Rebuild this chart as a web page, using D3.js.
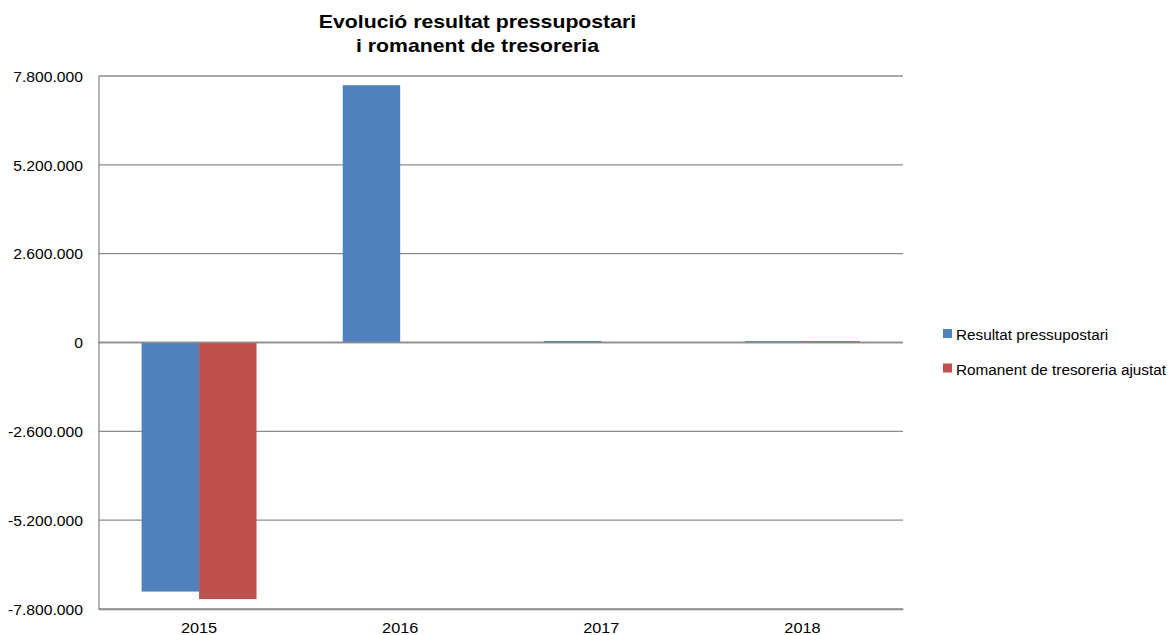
<!DOCTYPE html>
<html>
<head>
<meta charset="utf-8">
<script src="https://cdn.jsdelivr.net/npm/d3@7"></script>
<style>
  html, body { margin: 0; padding: 0; background: #fff; }
  svg { display: block; font-family: "Liberation Sans", Arial, sans-serif; }
</style>
</head>
<body>
<svg id="chart" width="1176" height="635"></svg>
<script>
// Years on the category axis
const years = ["2015", "2016", "2017", "2018"];
// Budget result per year (euros)
const resultatPressupostari = [-7290000, 7530000, 45000, 40000];
// Adjusted treasury surplus per year (euros)
const romanentAjustat = [-7510000, 0, 0, 40000];
// Value-axis ticks
const yTicks = [-7800000, -5200000, -2600000, 0, 2600000, 5200000, 7800000];
const seriesNames = ["Resultat pressupostari", "Romanent de tresoreria ajustat"];
const seriesColors = ["#4F81BD", "#C0504D"];

const svg = d3.select("#chart");
const plot = { left: 98.5, right: 903, top: 76, bottom: 609 };
const gridColor = "#8c8c8c";

const locale = d3.formatLocale({ decimal: ",", thousands: ".", grouping: [3], currency: ["", "€"], minus: "-" });
const fmt = locale.format(",d");

const x = d3.scaleBand().domain(years).range([plot.left, plot.right]).paddingInner(0).paddingOuter(0);
const y = d3.scaleLinear().domain([-7800000, 7800000]).range([plot.bottom, plot.top]);

// Two bars per category, with a gap of 150% of a bar's width
const barW = x.bandwidth() / 3.5;
const xs = d3.scaleBand().domain([0, 1]).range([0, barW * 2]);

// Horizontal gridlines
svg.append("g")
  .selectAll("line")
  .data(yTicks)
  .join("line")
  .attr("x1", plot.left)
  .attr("x2", plot.right)
  .attr("y1", d => y(d))
  .attr("y2", d => y(d))
  .attr("stroke", gridColor)
  .attr("stroke-width", 1.3);

const series = [resultatPressupostari, romanentAjustat];
series.forEach((vals, si) => {
  svg.append("g")
    .selectAll("rect")
    .data(vals.map((v, i) => ({ year: years[i], v })))
    .join("rect")
    .attr("x", d => x(d.year) + (x.bandwidth() - barW * 2) / 2 + xs(si))
    .attr("width", xs.bandwidth())
    .attr("y", d => Math.min(y(d.v), y(0)))
    .attr("height", d => Math.abs(y(d.v) - y(0)))
    .attr("fill", seriesColors[si]);
});

// Zero line over the bars' base
svg.append("line")
  .attr("x1", plot.left).attr("x2", plot.right)
  .attr("y1", y(0)).attr("y2", y(0))
  .attr("stroke", gridColor).attr("stroke-width", 1.3);

// Y axis (labels drawn slightly wide, as in the source typography)
const ySx = 1.12, yPad = 15.5;
const yAxis = d3.axisLeft(y).tickValues(yTicks).tickFormat(fmt).tickSize(0).tickPadding(yPad);
const yg = svg.append("g").attr("transform", `translate(${plot.left},0)`).call(yAxis);
yg.select(".domain").attr("stroke", gridColor).attr("stroke-width", 1.3);
yg.selectAll("text")
  .attr("font-size", 14).attr("fill", "#000")
  .attr("font-family", "'Liberation Sans', Arial, sans-serif")
  .attr("x", -yPad / ySx)
  .attr("dy", "0.38em")
  .attr("transform", `scale(${ySx},1)`);

// X axis
const xSx = 1.1;
const xAxis = d3.axisBottom(x).tickSize(0).tickPadding(13);
const xg = svg.append("g").attr("transform", `translate(0,${plot.bottom})`).call(xAxis);
xg.select(".domain").attr("stroke", gridColor).attr("stroke-width", 1.3);
xg.selectAll("text")
  .attr("font-size", 14.8).attr("fill", "#000")
  .attr("font-family", "'Liberation Sans', Arial, sans-serif")
  .attr("y", 24).attr("dy", 0)
  .attr("transform", `scale(${xSx},1)`);

// Title
const tSx = 1.18, tCx = 477.5;
const title = svg.append("text")
  .attr("text-anchor", "middle")
  .attr("font-size", 18)
  .attr("font-weight", "bold")
  .attr("fill", "#000")
  .attr("transform", `translate(${tCx},0) scale(${tSx},1)`);
title.append("tspan").attr("x", 0).attr("y", 28).text("Evolució resultat pressupostari");
title.append("tspan").attr("x", 0).attr("y", 52).text("i romanent de tresoreria");

// Legend
const legend = svg.append("g");
seriesNames.forEach((name, i) => {
  const base = 340 + i * 34.5;
  legend.append("rect")
    .attr("x", 943).attr("y", base - 11).attr("width", 9).attr("height", 9)
    .attr("fill", seriesColors[i]);
  legend.append("text")
    .attr("x", 956).attr("y", base)
    .attr("font-size", 15.3).attr("fill", "#000")
    .text(name);
});
</script>
</body>
</html>
